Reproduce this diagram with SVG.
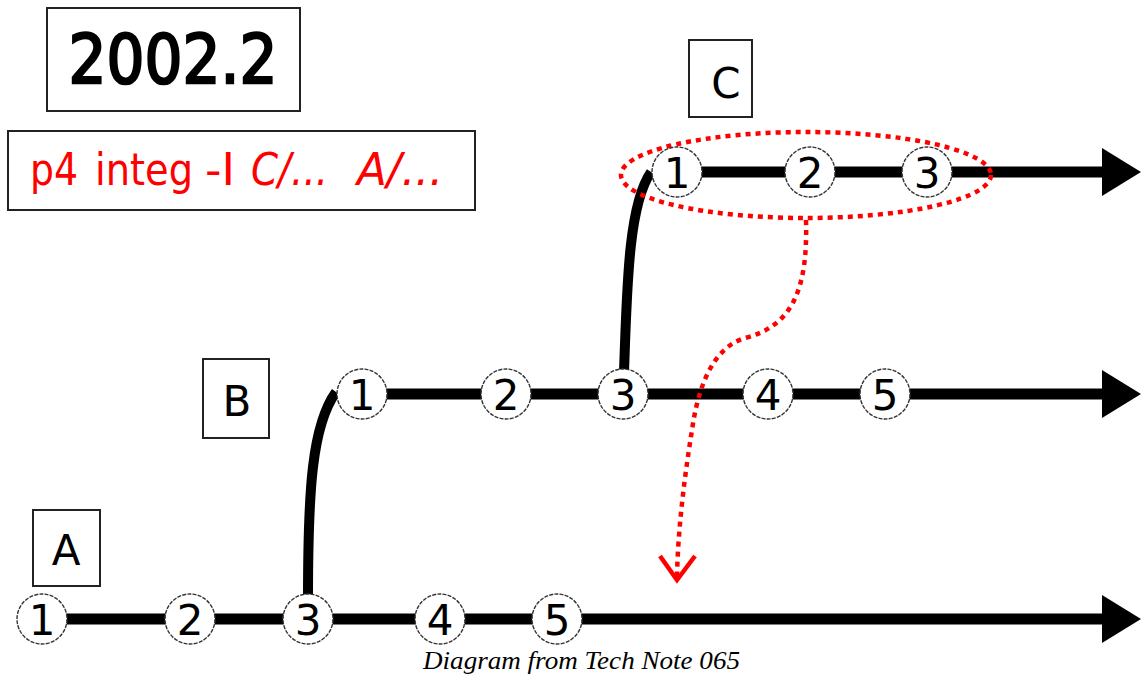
<svg xmlns="http://www.w3.org/2000/svg" width="1141" height="684" viewBox="0 0 1141 684">
<style>
.box{fill:#fff;stroke:#222;stroke-width:2}
.lbl{font-family:"DejaVu Sans",sans-serif;font-size:42px;fill:#000;text-anchor:middle}
.main{stroke:#000;stroke-width:11;fill:none}
.branch{stroke:#000;stroke-width:10;fill:none;stroke-linecap:butt}
.node circle{fill:#fff;stroke:#333;stroke-width:1.4;stroke-dasharray:4 1.2}
.node text{font-family:"DejaVu Sans",sans-serif;font-size:42px;fill:#000;text-anchor:middle}
.dot{stroke:#f00;stroke-width:4.5;fill:none;stroke-dasharray:5 5}
.red{font-family:"DejaVu Sans",sans-serif;font-size:44px;fill:#f00}
.cap{font-family:"Liberation Serif",serif;font-style:italic;font-size:26px;fill:#000}
</style>
<defs>
<marker id="ah" markerUnits="userSpaceOnUse" markerWidth="40" markerHeight="50" viewBox="0 0 40 48" refX="0" refY="24" orient="auto">
<path d="M0,0 L39,24 L0,48 Z" fill="#000"/>
</marker>
</defs>
<rect width="1141" height="684" fill="#fff"/>

<g id="title">
<rect class="box" x="47" y="8" width="253" height="103"/>
<text x="173" y="83" font-family="DejaVu Sans,sans-serif" font-size="68" stroke="#000" stroke-width="2.5" text-anchor="middle" textLength="209" lengthAdjust="spacingAndGlyphs">2002.2</text>
</g>
<g id="note">
<rect class="box" x="8" y="131" width="467" height="79"/>
<text class="red" y="185"><tspan x="30" textLength="48" lengthAdjust="spacingAndGlyphs">p4</tspan><tspan x="95" textLength="98" lengthAdjust="spacingAndGlyphs">integ</tspan><tspan x="205" textLength="30" lengthAdjust="spacingAndGlyphs">-I</tspan><tspan x="251" font-style="italic" textLength="77" lengthAdjust="spacingAndGlyphs">C/...</tspan><tspan x="357" font-style="italic" textLength="86" lengthAdjust="spacingAndGlyphs">A/...</tspan></text>
</g>
<g id="label-C"><rect class="box" x="689" y="40" width="63" height="77"/><text class="lbl" x="726" y="98">C</text></g>
<g id="label-B"><rect class="box" x="203" y="359" width="66" height="79"/><text class="lbl" x="237" y="416">B</text></g>
<g id="label-A"><rect class="box" x="33" y="510" width="67" height="76"/><text class="lbl" x="66" y="565">A</text></g>

<g id="connectors">
<line class="main" x1="677" y1="172" x2="1102" y2="172" marker-end="url(#ah)"/>
<line class="main" x1="362" y1="394" x2="1102" y2="394" marker-end="url(#ah)"/>
<line class="main" x1="42" y1="619" x2="1102" y2="619" marker-end="url(#ah)"/>
<path class="branch" d="M308,598 C308,490 312,425 336,392"/>
<path class="branch" d="M624,372 C627,290 628,205 651,172"/>
<ellipse class="dot" cx="806" cy="175" rx="185" ry="43"/>
<path class="dot" d="M806,220 C808,290 792,326 745,338 C712,348 698,388 692,430 C684,480 678,530 677,576"/>
<polyline points="660,556 677,580 695,556" fill="none" stroke="#f00" stroke-width="4.5"/>
</g>

<g id="C1" class="node"><circle cx="677" cy="172" r="25"/><text x="677" y="188">1</text></g>
<g id="C2" class="node"><circle cx="810" cy="172" r="25"/><text x="810" y="188">2</text></g>
<g id="C3" class="node"><circle cx="927" cy="172" r="25"/><text x="927" y="188">3</text></g>

<g id="B1" class="node"><circle cx="362" cy="394" r="25"/><text x="362" y="410">1</text></g>
<g id="B2" class="node"><circle cx="506" cy="394" r="25"/><text x="506" y="410">2</text></g>
<g id="B3" class="node"><circle cx="623" cy="394" r="25"/><text x="623" y="410">3</text></g>
<g id="B4" class="node"><circle cx="768" cy="394" r="25"/><text x="768" y="410">4</text></g>
<g id="B5" class="node"><circle cx="885" cy="394" r="25"/><text x="885" y="410">5</text></g>

<g id="A1" class="node"><circle cx="42" cy="619" r="25"/><text x="42" y="635">1</text></g>
<g id="A2" class="node"><circle cx="190" cy="619" r="25"/><text x="190" y="635">2</text></g>
<g id="A3" class="node"><circle cx="308" cy="619" r="25"/><text x="308" y="635">3</text></g>
<g id="A4" class="node"><circle cx="440" cy="619" r="25"/><text x="440" y="635">4</text></g>
<g id="A5" class="node"><circle cx="557" cy="619" r="25"/><text x="557" y="635">5</text></g>

<text class="cap" x="423" y="669" textLength="317" lengthAdjust="spacingAndGlyphs">Diagram from Tech Note 065</text>
</svg>
